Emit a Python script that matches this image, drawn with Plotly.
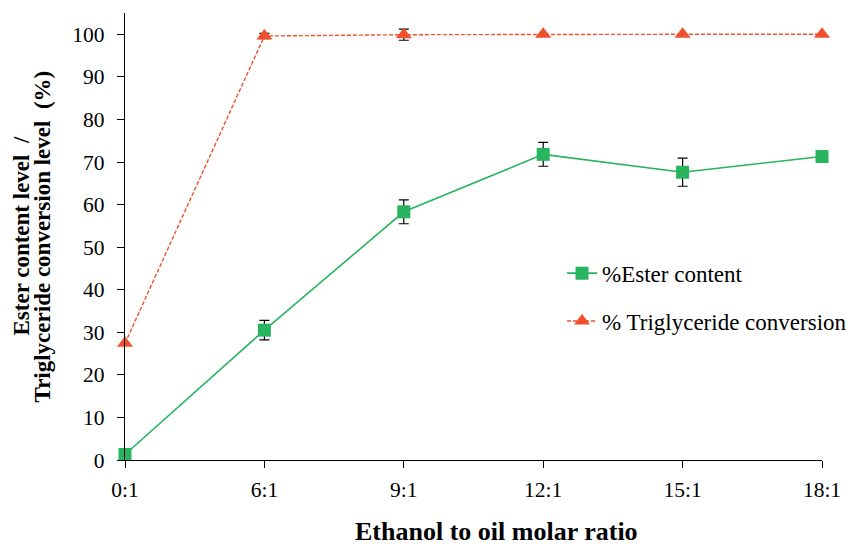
import plotly.graph_objects as go

ratios = ['0:1', '6:1', '9:1', '12:1', '15:1', '18:1']
ester = [1.3, 30.5, 58.3, 71.8, 67.6, 71.3]
ester_err = [0.8, 2.3, 2.8, 2.8, 3.3, 0.0]
tg_conv = [27.4, 99.6, 99.9, 100.0, 100.0, 100.0]
tg_err = [0.0, 0.6, 1.3, 0.0, 0.0, 0.0]

green = 'rgb(40,180,95)'
red = 'rgb(240,80,45)'
serif = 'Liberation Serif'

fig = go.Figure()

fig.add_trace(go.Scatter(
    x=ratios, y=ester, name='%Ester content',
    mode='lines+markers',
    line=dict(color=green, width=1.6),
    marker=dict(symbol='square', size=13, color=green),
    error_y=dict(type='data', array=ester_err, color='black', thickness=1.2, width=5),
    cliponaxis=False, legendgroup='a'
))

fig.add_trace(go.Scatter(
    x=ratios, y=tg_conv, name='% Triglyceride conversion',
    mode='lines+markers',
    line=dict(color=red, width=1.4, dash='4px,2px'),
    marker=dict(symbol='triangle-up', size=14, color=red),
    error_y=dict(type='data', array=tg_err, color='black', thickness=1.2, width=5),
    cliponaxis=False, legendgroup='b'
))

# the page body adds 8px around the figure, so the figure is a bit smaller
fig.update_layout(
    width=850, height=538,
    margin=dict(l=117, r=36, t=5, b=86, autoexpand=False),
    plot_bgcolor='white', paper_bgcolor='white',
    font=dict(family=serif, size=21, color='black'),
    legend=dict(x=0.627, y=0.466, xanchor='left', yanchor='top',
                font=dict(family=serif, size=23), tracegroupgap=15,
                bgcolor='rgba(0,0,0,0)'),
    xaxis=dict(
        type='category', range=[0, 5], automargin=False,
        showline=True, linecolor='black', linewidth=1.2,
        ticks='outside', ticklen=7, tickcolor='black',
        showgrid=False, tickfont=dict(size=21.5), ticklabelstandoff=3,
    ),
    yaxis=dict(
        range=[0, 105], tickvals=list(range(0, 101, 10)), automargin=False,
        showline=True, linecolor='black', linewidth=1.2,
        ticks='outside', ticklen=7, tickcolor='black',
        showgrid=False, zeroline=False, tickfont=dict(size=21.5), ticklabelstandoff=8,
    ),
)

# axis titles
fig.add_annotation(xref='paper', yref='paper', x=0.5, y=0, xshift=23, yshift=-71,
                   xanchor='center', yanchor='middle', showarrow=False,
                   text='<b>Ethanol to oil molar ratio</b>', font=dict(size=26))
fig.add_annotation(xref='paper', yref='paper', x=0, y=0.5, xshift=-104,
                   xanchor='center', yanchor='middle', showarrow=False, textangle=-90,
                   text='<b>Ester content level &nbsp;/</b>', font=dict(size=23))
fig.add_annotation(xref='paper', yref='paper', x=0, y=0.5, xshift=-83,
                   xanchor='center', yanchor='middle', showarrow=False, textangle=-90,
                   text='<b>Triglyceride conversion level &nbsp;(%)</b>', font=dict(size=23))

fig.write_html('out.html')
